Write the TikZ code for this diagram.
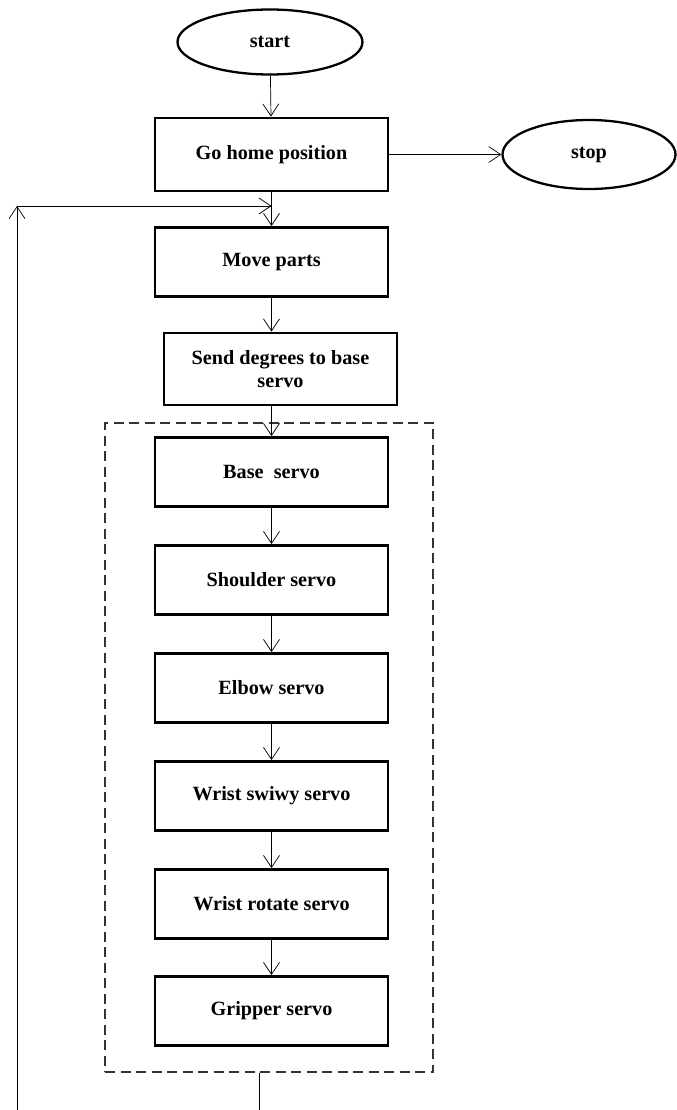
\documentclass[tikz,border=0pt]{standalone}
\usepackage{fontspec}
\setmainfont{Liberation Serif}
\usetikzlibrary{arrows.meta,shapes.geometric}

\begin{document}
\begin{tikzpicture}[
    >={Straight Barb[length=2.4mm,width=3.2mm]},
    every node/.style={font=\bfseries\fontsize{11.5}{13}\selectfont},
    termbox/.style={draw, ellipse, line width=1.3pt, inner sep=0pt},
    stepbox/.style={draw, rectangle, line width=1.7pt, minimum width=4.66cm, minimum height=1.38cm, align=center},
    groupbox/.style={draw=black!80, semithick, dash pattern=on 2mm off 1.1mm, minimum width=6.56cm, minimum height=12.98cm},
    flow/.style={->, thin}
]
\useasboundingbox (0,0) rectangle (13.54,-22.2);

\node[groupbox] at (5.38,-14.95) (group){}; % servo block

\node[termbox, minimum width=3.7cm, minimum height=1.3cm] at (5.4,-0.84) (start){start};
\node[termbox, minimum width=3.46cm, minimum height=1.38cm] at (11.78,-3.09) (stop){stop};

\node[stepbox, minimum height=1.46cm] at (5.43,-3.09) (home){Go home position};
\node[stepbox] at (5.43,-5.24) (move){Move parts};
\node[stepbox, minimum height=1.44cm] at (5.61,-7.38) (send){Send degrees to base\\servo};
\node[stepbox] at (5.43,-9.44) (base){Base~~servo};
\node[stepbox] at (5.43,-11.6) (shoulder){Shoulder servo};
\node[stepbox] at (5.43,-13.76) (elbow){Elbow servo};
\node[stepbox] at (5.43,-15.92) (swivy){Wrist swiwy servo};
\node[stepbox] at (5.43,-18.08) (rotate){Wrist rotate servo};
\node[stepbox] at (5.43,-20.22) (gripper){Gripper servo};

\draw[flow] (start) -- (home);
\draw[flow] (home) -- (stop);
\draw[flow] (home) -- (move);
\draw[flow] (move) -- (send.north -| move.south);
\draw[flow] (send.south -| base.north) -- (base);
\draw[flow] (base) -- (shoulder);
\draw[flow] (shoulder) -- (elbow);
\draw[flow] (elbow) -- (swivy);
\draw[flow] (swivy) -- (rotate);
\draw[flow] (rotate) -- (gripper);

% loop back
\coordinate (fbdown) at (5.18,-22.2);
\coordinate (fbleft) at (0.34,-22.2);
\coordinate (fbcorner) at (0.34,-4.12);
\draw[thin] (group.south -| fbdown) -- (fbdown);
\draw[flow] (fbleft) -- (fbcorner);
\draw[flow] (fbcorner) -- (fbcorner -| home.south);

\end{tikzpicture}
\end{document}
